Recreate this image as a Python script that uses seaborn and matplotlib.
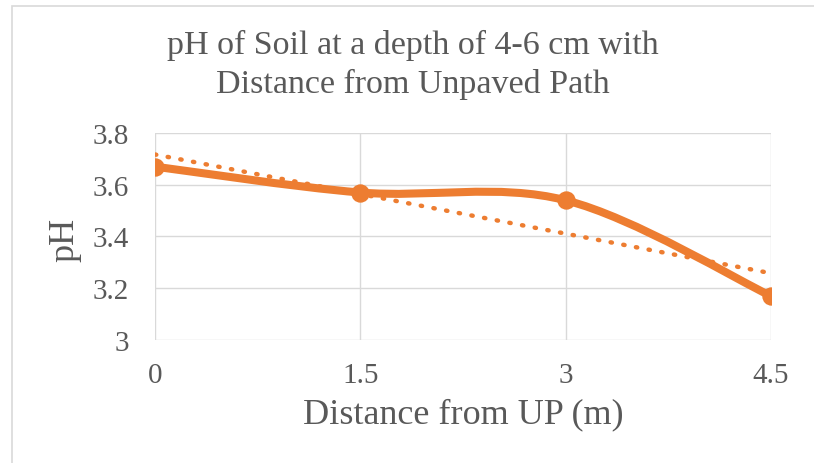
import numpy as np
import pandas as pd
import matplotlib
matplotlib.use('Agg')
import matplotlib.pyplot as plt
import seaborn as sns
from matplotlib.path import Path
from matplotlib.patches import PathPatch, Rectangle

# =============================================================================
# DADOS
# =============================================================================
distancia = [0, 1.5, 3, 4.5]
ph_solo = [3.67, 3.57, 3.54, 3.17]
x_ticks = [0, 1.5, 3, 4.5]
x_tick_labels = ['0', '1.5', '3', '4.5']
y_ticks = [3, 3.2, 3.4, 3.6, 3.8]
y_tick_labels = ['3', '3.2', '3.4', '3.6', '3.8']

titulo = 'pH of Soil at a depth of 4-6 cm with\nDistance from Unpaved Path'
x_label = 'Distance from UP (m)'
y_label = 'pH'

LARANJA = '#ED7D31'
CINZA_TEXTO = '#595959'
CINZA_GRADE = '#D9D9D9'

df = pd.DataFrame({'dist': distancia, 'ph': ph_solo})

sns.set_style('white')
plt.rcParams['font.family'] = ['Liberation Serif', 'DejaVu Serif']

fig = plt.figure(figsize=(8.14, 4.64), dpi=100)
ax = fig.add_axes([0.1904, 0.2651, 0.7568, 0.4461])

# borda do gráfico (estilo Excel)
fig.patches.append(Rectangle((12 / 814, -0.1), 1.2, 1 - 7 / 464 + 0.1,
                             transform=fig.transFigure, fill=False,
                             edgecolor='#D9D9D9', linewidth=1.2))

# linha de tendência linear (pontilhada)
sns.regplot(data=df, x='dist', y='ph', ax=ax, ci=None, scatter=False,
            line_kws=dict(color=LARANJA, linewidth=3.2, linestyle=(0, (0.3, 2.6)),
                          dash_capstyle='round'))

# linha suavizada (Bezier tipo Excel) a partir dos pontos
pts = np.column_stack([distancia, ph_solo])
verts = [tuple(pts[0])]
codes = [Path.MOVETO]
n = len(pts)
for i in range(n - 1):
    p0 = pts[max(i - 1, 0)]
    p1 = pts[i]
    p2 = pts[i + 1]
    p3 = pts[min(i + 2, n - 1)]
    c1 = p1 + (p2 - p0) / 6
    c2 = p2 - (p3 - p1) / 6
    verts += [tuple(c1), tuple(c2), tuple(p2)]
    codes += [Path.CURVE4] * 3
ax.add_patch(PathPatch(Path(verts, codes), facecolor='none', edgecolor=LARANJA,
                       linewidth=5.8, capstyle='round', joinstyle='round', zorder=3))

sns.scatterplot(data=df, x='dist', y='ph', ax=ax, color=LARANJA, s=175,
                edgecolor=LARANJA, linewidth=0, zorder=4)

ax.set_xlim(0, 4.5)
ax.set_ylim(3, 3.8)
ax.set_xticks(x_ticks)
ax.set_xticklabels(x_tick_labels)
ax.set_yticks(y_ticks)
ax.set_yticklabels(y_tick_labels)
ax.grid(True, color=CINZA_GRADE, linewidth=1)
ax.set_axisbelow(True)
for s in ax.spines.values():
    s.set_visible(False)
ax.tick_params(axis='both', length=0, labelsize=21, labelcolor=CINZA_TEXTO)
ax.tick_params(axis='x', pad=16)
ax.tick_params(axis='y', pad=19)

ax.set_xlabel(x_label, fontsize=26, color=CINZA_TEXTO, va='center')
ax.xaxis.set_label_coords(0.5, -0.357)
ax.set_ylabel(y_label, fontsize=26, color=CINZA_TEXTO, va='center')
ax.yaxis.set_label_coords(-0.146, 0.49)
fig.text(0.507, 0.86, titulo, ha='center', va='center', fontsize=24.5,
         color=CINZA_TEXTO, linespacing=1.36)

fig.savefig('out.png', dpi=100)
plt.close(fig)
